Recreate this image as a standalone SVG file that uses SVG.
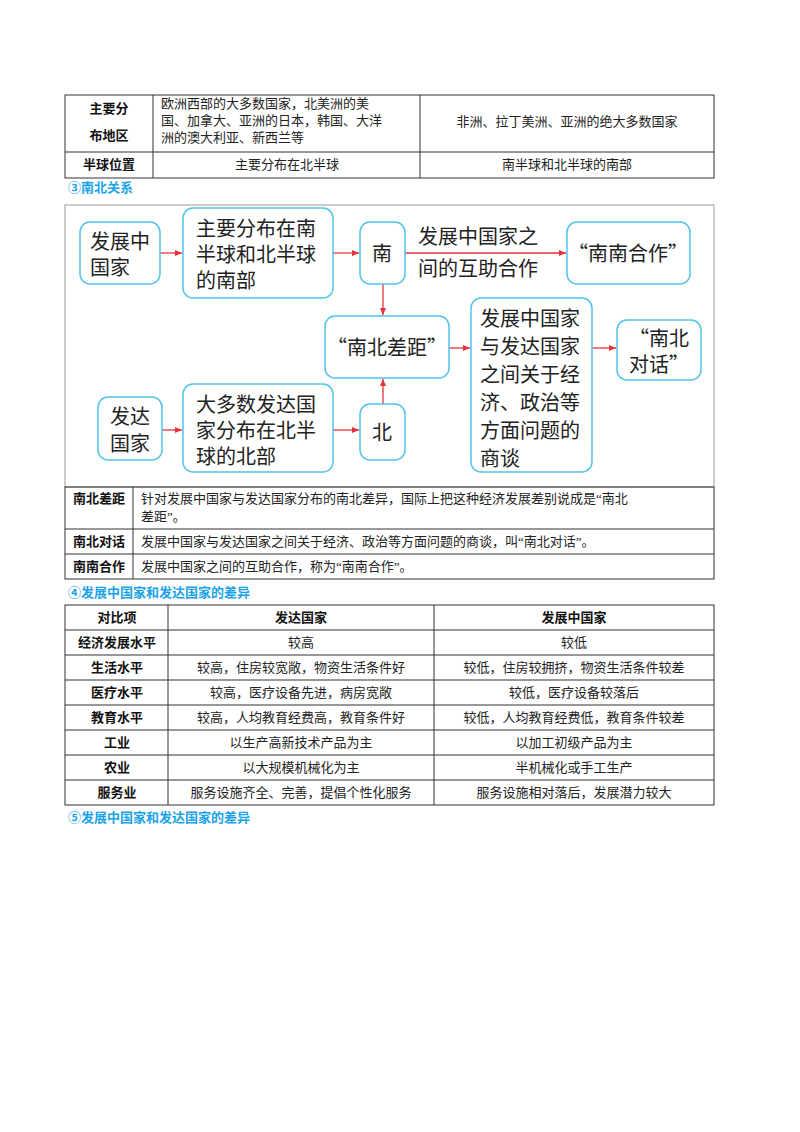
<svg xmlns="http://www.w3.org/2000/svg" width="800" height="1132" viewBox="0 0 800 1132">
<style>
.t{font-family:"Liberation Serif","Noto Sans CJK SC",serif;font-size:13px;fill:#222}
.b{font-family:"Liberation Sans","Noto Sans CJK SC",sans-serif;font-size:13px;font-weight:bold;fill:#111}
.h{font-family:"Liberation Sans","Noto Sans CJK SC",sans-serif;font-size:13px;font-weight:bold;fill:#1aa3e8}
.ln{stroke:#333;stroke-width:1;fill:none}
.n{fill:#fff;stroke:#4fc3e8;stroke-width:1.5}
.d{font-family:"Noto Sans CJK SC",sans-serif;font-size:20px;fill:#222}
.a{stroke:#e8303a;stroke-width:1.3;fill:none;marker-end:url(#ar)}
</style>
<defs><marker id="ar" markerWidth="8" markerHeight="8" refX="7" refY="4" orient="auto" markerUnits="userSpaceOnUse"><path d="M0,1 L7,4 L0,7 Z" fill="#e8303a"/></marker></defs>
<rect width="800" height="1132" fill="#fff"/>
<g id="table1">
<rect class="ln" x="65" y="95" width="649" height="83"/>
<line class="ln" x1="153" y1="95" x2="153" y2="178"/><line class="ln" x1="420" y1="95" x2="420" y2="178"/>
<line class="ln" x1="65" y1="152" x2="714" y2="152"/>
<text class="b" x="109" y="113" text-anchor="middle">主要分</text><text class="b" x="109" y="140" text-anchor="middle">布地区</text>
<text class="t" x="161" y="108">欧洲西部的大多数国家，北美洲的美</text>
<text class="t" x="161" y="125">国、加拿大、亚洲的日本，韩国、大洋</text>
<text class="t" x="161" y="142">洲的澳大利亚、新西兰等</text>
<text class="t" x="567" y="126" text-anchor="middle">非洲、拉丁美洲、亚洲的绝大多数国家</text>
<text class="b" x="109" y="169" text-anchor="middle">半球位置</text>
<text class="t" x="287" y="169" text-anchor="middle">主要分布在北半球</text>
<text class="t" x="567" y="169" text-anchor="middle">南半球和北半球的南部</text>
</g>
<text class="h" x="68" y="192">③南北关系</text>
<rect x="65" y="205" width="649" height="282" fill="none" stroke="#999" stroke-width="1"/>
<g id="connectors">
<line class="a" x1="160" y1="253" x2="182" y2="253"/>
<line class="a" x1="333" y1="253" x2="359" y2="253"/>
<line class="a" x1="405" y1="253" x2="566" y2="253"/>
<line class="a" x1="383" y1="284" x2="383" y2="315"/>
<line class="a" x1="162" y1="430" x2="182" y2="430"/>
<line class="a" x1="333" y1="430" x2="359" y2="430"/>
<line class="a" x1="383" y1="404" x2="383" y2="379"/>
<line class="a" x1="449" y1="348" x2="470" y2="348"/>
<line class="a" x1="592" y1="348" x2="616" y2="348"/>
<text class="d" x="418" y="244">发展中国家之</text>
<text class="d" x="418" y="276">间的互助合作</text>
</g>
<g id="n1"><rect class="n" x="80" y="222" width="80" height="62" rx="10"/><text class="d" x="90" y="249">发展中</text><text class="d" x="90" y="275">国家</text></g>
<g id="n2"><rect class="n" x="183" y="208" width="150" height="90" rx="10"/><text class="d" x="196" y="236">主要分布在南</text><text class="d" x="196" y="262">半球和北半球</text><text class="d" x="196" y="288">的南部</text></g>
<g id="n3"><rect class="n" x="360" y="222" width="45" height="62" rx="10"/><text class="d" x="382" y="261" text-anchor="middle">南</text></g>
<g id="n4"><rect class="n" x="567" y="222" width="123" height="62" rx="10"/><text class="d" x="628" y="261" text-anchor="middle">“南南合作”</text></g>
<g id="n5"><rect class="n" x="325" y="316" width="124" height="62" rx="10"/><text class="d" x="387" y="355" text-anchor="middle">“南北差距”</text></g>
<g id="n6"><rect class="n" x="471" y="298" width="121" height="174" rx="10"/>
<text class="d" x="480" y="326">发展中国家</text><text class="d" x="480" y="354">与发达国家</text><text class="d" x="480" y="382">之间关于经</text><text class="d" x="480" y="410">济、政治等</text><text class="d" x="480" y="438">方面问题的</text><text class="d" x="480" y="466">商谈</text></g>
<g id="n7"><rect class="n" x="617" y="320" width="84" height="60" rx="10"/><text class="d" x="659" y="346" text-anchor="middle">“南北</text><text class="d" x="659" y="372" text-anchor="middle">对话”</text></g>
<g id="n8"><rect class="n" x="98" y="397" width="64" height="63" rx="10"/><text class="d" x="130" y="424" text-anchor="middle">发达</text><text class="d" x="130" y="451" text-anchor="middle">国家</text></g>
<g id="n9"><rect class="n" x="183" y="384" width="150" height="88" rx="10"/><text class="d" x="196" y="412">大多数发达国</text><text class="d" x="196" y="438">家分布在北半</text><text class="d" x="196" y="464">球的北部</text></g>
<g id="n10"><rect class="n" x="360" y="404" width="45" height="56" rx="10"/><text class="d" x="382" y="440" text-anchor="middle">北</text></g>
<g id="table2">
<rect class="ln" x="65" y="487" width="649" height="92"/>
<line class="ln" x1="133" y1="487" x2="133" y2="579"/>
<line class="ln" x1="65" y1="529" x2="714" y2="529"/><line class="ln" x1="65" y1="554" x2="714" y2="554"/>
<text class="b" x="99" y="503" text-anchor="middle">南北差距</text>
<text class="t" x="141" y="503">针对发展中国家与发达国家分布的南北差异，国际上把这种经济发展差别说成是“南北</text>
<text class="t" x="141" y="521">差距”。</text>
<text class="b" x="99" y="546" text-anchor="middle">南北对话</text>
<text class="t" x="141" y="546">发展中国家与发达国家之间关于经济、政治等方面问题的商谈，叫“南北对话”。</text>
<text class="b" x="99" y="571" text-anchor="middle">南南合作</text>
<text class="t" x="141" y="571">发展中国家之间的互助合作，称为“南南合作”。</text>
</g>
<text class="h" x="68" y="597">④发展中国家和发达国家的差异</text>
<g id="table3">
<rect class="ln" x="65" y="605" width="649" height="200"/>
<line class="ln" x1="168" y1="605" x2="168" y2="805"/><line class="ln" x1="434" y1="605" x2="434" y2="805"/>
<line class="ln" x1="65" y1="630" x2="714" y2="630"/><line class="ln" x1="65" y1="655" x2="714" y2="655"/>
<line class="ln" x1="65" y1="680" x2="714" y2="680"/><line class="ln" x1="65" y1="705" x2="714" y2="705"/>
<line class="ln" x1="65" y1="730" x2="714" y2="730"/><line class="ln" x1="65" y1="755" x2="714" y2="755"/>
<line class="ln" x1="65" y1="780" x2="714" y2="780"/>
<g text-anchor="middle">
<text class="b" x="117" y="622">对比项</text><text class="b" x="301" y="622">发达国家</text><text class="b" x="574" y="622">发展中国家</text>
<text class="b" x="117" y="647">经济发展水平</text><text class="b" x="117" y="672">生活水平</text><text class="b" x="117" y="697">医疗水平</text>
<text class="b" x="117" y="722">教育水平</text><text class="b" x="117" y="747">工业</text><text class="b" x="117" y="772">农业</text><text class="b" x="117" y="797">服务业</text>
<text class="t" x="301" y="647">较高</text><text class="t" x="574" y="647">较低</text>
<text class="t" x="301" y="672">较高，住房较宽敞，物资生活条件好</text><text class="t" x="574" y="672">较低，住房较拥挤，物资生活条件较差</text>
<text class="t" x="301" y="697">较高，医疗设备先进，病房宽敞</text><text class="t" x="574" y="697">较低，医疗设备较落后</text>
<text class="t" x="301" y="722">较高，人均教育经费高，教育条件好</text><text class="t" x="574" y="722">较低，人均教育经费低，教育条件较差</text>
<text class="t" x="301" y="747">以生产高新技术产品为主</text><text class="t" x="574" y="747">以加工初级产品为主</text>
<text class="t" x="301" y="772">以大规模机械化为主</text><text class="t" x="574" y="772">半机械化或手工生产</text>
<text class="t" x="301" y="797">服务设施齐全、完善，提倡个性化服务</text><text class="t" x="574" y="797">服务设施相对落后，发展潜力较大</text>
</g>
</g>
<text class="h" x="68" y="822">⑤发展中国家和发达国家的差异</text>
</svg>
